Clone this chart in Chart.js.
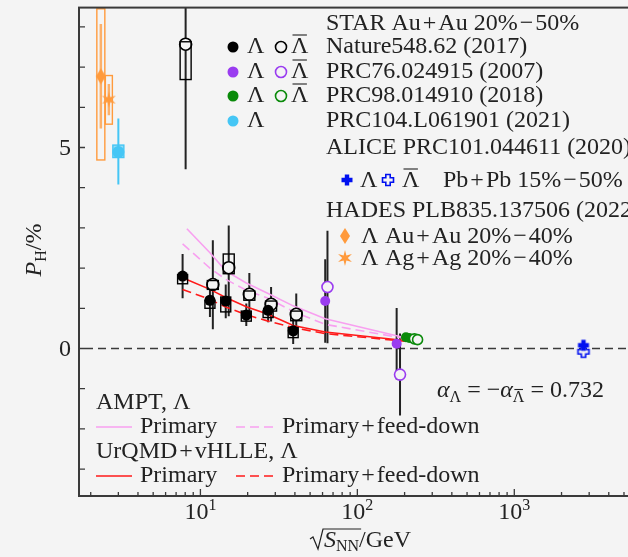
<!DOCTYPE html>
<html>
<head>
<meta charset="utf-8">
<script src="https://cdn.jsdelivr.net/npm/chart.js@4.4.1/dist/chart.umd.min.js"></script>
<style>
html, body { margin: 0; padding: 0; background: #f4f4f4; overflow: hidden; width: 628px; height: 557px; }
canvas { display: block; }
</style>
</head>
<body>
<canvas id="c" width="660" height="557"></canvas>
<script>
// STAR BES, Nature 548, 62 (2017)
const besE = [7.7, 11.5, 14.5, 19.6, 27, 39];
const besLam = [1.80, 1.20, 1.18, 0.83, 0.95, 0.44];
const besLamStatLo = [1.25, 0.78, 0.75, 0.56, 0.65, 0.11];
const besLamStatHi = [2.35, 1.62, 1.59, 1.12, 1.25, 0.77];
const besLamSysLo = [1.61, 1.00, 0.91, 0.68, 0.77, 0.27];
const besLamSysHi = [1.84, 1.20, 1.28, 0.93, 0.93, 0.52];
const besBarE = [8.05, 12.0, 15.15, 20.5, 28.2, 40.8]; // Λbar shifted a bit in the figure
const besBar = [7.57, 1.59, 2.01, 1.35, 1.10, 0.85];
const besBarStatLo = [4.46, 0.48, 0.80, 0.82, 0.67, 0.33];
const besBarStatHi = [10.7, 2.69, 3.06, 1.88, 1.53, 1.37];
const besBarSysLo = [6.69, 1.47, 1.86, 1.20, 0.93, 0.69];
const besBarSysHi = [7.63, 1.69, 2.35, 1.43, 1.18, 0.93];

// STAR PRC76.024915 (2007)
const prc76LamE = [62.4, 178];
const prc76Lam = [1.18, 0.12];
const prc76LamErr = [1.04, 0.89];
const prc76BarE = [64.5, 187];
const prc76Bar = [1.53, -0.65];
const prc76BarErr = [1.40, 1.02];

// STAR PRC98.014910 (2018)
const prc98LamE = [204, 214];
const prc98Lam = [0.28, 0.26];
const prc98BarE = [231, 242];
const prc98Bar = [0.24, 0.22];

// STAR PRC104.L061901 (2021)
const prc104E = [3.0];
const prc104 = [4.89];
const prc104StatLo = [4.08];
const prc104StatHi = [5.72];
const prc104SysLo = [4.75];
const prc104SysHi = [5.06];

// ALICE PRC101.044611 (2020)
const aliceE = [2760];
const aliceLam = [0.08];
const aliceBar = [-0.08];

// HADES PLB835.137506 (2022)
const hadesAuE = [2.32];
const hadesAu = [6.77];
const hadesAuStatLo = [5.47];
const hadesAuStatHi = [8.07];
const hadesAuSysLo = [4.69];
const hadesAuSysHi = [8.45];
const hadesAgE = [2.61];
const hadesAg = [6.19];
const hadesAgStatLo = [5.80];
const hadesAgStatHi = [6.58];
const hadesAgSysLo = [5.58];
const hadesAgSysHi = [6.79];

// models
const modelE = [7.7, 11.5, 14.5, 19.6, 27, 39, 62.4, 200];
const amptPrimE = [8.2, 11.5, 14.5, 19.6, 27, 39, 62.4, 195];
const amptPrim = [2.98, 2.38, 1.93, 1.63, 1.37, 1.06, 0.74, 0.28];
const amptFeed = [2.60, 2.00, 1.72, 1.45, 1.25, 0.92, 0.60, 0.25];
const urqmdPrim = [1.76, 1.47, 1.27, 1.04, 0.85, 0.57, 0.41, 0.20];
const urqmdFeed = [1.47, 1.22, 1.03, 0.84, 0.68, 0.52, 0.37, 0.18];

const xMajor = [10, 100, 1000];
const yTicks = [-3, -2, -1, 0, 1, 2, 3, 4, 5, 6, 7, 8];
const yLabels = [0, 5];

const BG = '#f4f4f4';
const INK = '#222';
const AXIS = '#3a3a3a';
const PURPLE = '#9a3cf0';
const GREEN = '#0a8a0a';
const CYAN = '#45c6f5';
const ORANGE = '#ff9a3c';
const BLUE = '#0010f0';
const PINK = '#f8a0f0';
const RED = '#ff1a1a';
const FONT = '"Liberation Serif", serif';
const F = '24px ' + FONT;
const FI = 'italic 24px ' + FONT;
const FS = '16px ' + FONT;

function pts(xs, ys) { return xs.map((x, i) => ({ x: x, y: ys[i] })); }
function minus(ys, e) { return ys.map((y, i) => y - e[i]); }
function plus(ys, e) { return ys.map((y, i) => y + e[i]); }

function markImg(kind, color) {
    const c = document.createElement('canvas');
    c.width = 20; c.height = 20;
    const g = c.getContext('2d');
    g.translate(10, 10);
    g.fillStyle = color; g.strokeStyle = color;
    if (kind === 'plus' || kind === 'oplus') {
        const a = 5.5, b = 2.2;
        g.beginPath();
        g.moveTo(-b, -a); g.lineTo(b, -a); g.lineTo(b, -b); g.lineTo(a, -b); g.lineTo(a, b);
        g.lineTo(b, b); g.lineTo(b, a); g.lineTo(-b, a); g.lineTo(-b, b); g.lineTo(-a, b);
        g.lineTo(-a, -b); g.lineTo(-b, -b); g.closePath();
        if (kind === 'plus') g.fill();
        else { g.fillStyle = BG; g.fill(); g.lineWidth = 1.6; g.stroke(); }
    } else if (kind === 'diamond') {
        g.beginPath();
        g.moveTo(0, -8); g.lineTo(5, 0); g.lineTo(0, 8); g.lineTo(-5, 0); g.closePath();
        g.fill();
    } else if (kind === 'star') {
        g.beginPath();
        for (let k = 0; k < 12; k++) {
            const r = k % 2 === 0 ? 8 : 2.8;
            const ang = -Math.PI / 2 + k * Math.PI / 6;
            g.lineTo(r * Math.cos(ang), r * Math.sin(ang));
        }
        g.closePath();
        g.fill();
    }
    return c;
}

const imgPlus = markImg('plus', BLUE);
const imgOplus = markImg('oplus', BLUE);
const imgDiamond = markImg('diamond', ORANGE);
const imgStar = markImg('star', ORANGE);

function markers(label, xs, ys, style, color, open, r, extra) {
    return Object.assign({
        label: label,
        data: pts(xs, ys),
        showLine: false,
        pointStyle: style,
        pointRadius: r,
        pointBackgroundColor: open ? BG : color,
        pointBorderColor: color,
        pointBorderWidth: open ? 1.6 : 0
    }, extra || {});
}

function model(label, xs, ys, color, dashed) {
    return {
        label: label,
        data: pts(xs, ys),
        showLine: true,
        borderColor: color,
        borderWidth: 1.6,
        borderDash: dashed ? [9, 5] : [],
        pointRadius: 0,
        tension: 0,
        fill: false
    };
}

const datasets = [
    markers('ALICE Λ', aliceE, aliceLam, imgPlus, BLUE, false, 6),
    markers('ALICE Λbar', aliceE, aliceBar, imgOplus, BLUE, false, 6),
    markers('HADES Au', hadesAuE, hadesAu, imgDiamond, ORANGE, false, 6,
        { errLo: hadesAuStatLo, errHi: hadesAuStatHi, errColor: ORANGE, errWidth: 2.5, errAlpha: 0.75,
          sysLo: hadesAuSysLo, sysHi: hadesAuSysHi, sysColor: ORANGE, boxW: 4 }),
    markers('HADES Ag', hadesAgE, hadesAg, imgStar, ORANGE, false, 6,
        { errLo: hadesAgStatLo, errHi: hadesAgStatHi, errColor: ORANGE, errWidth: 2.5, errAlpha: 0.75,
          sysLo: hadesAgSysLo, sysHi: hadesAgSysHi, sysColor: ORANGE, boxW: 3.5 }),
    markers('PRC104 Λ', prc104E, prc104, 'circle', CYAN, false, 6,
        { errLo: prc104StatLo, errHi: prc104StatHi, errColor: CYAN, errWidth: 2,
          sysLo: prc104SysLo, sysHi: prc104SysHi, sysColor: CYAN, sysFill: 'rgba(69,198,245,0.55)', boxW: 5.5, sysBefore: true }),
    markers('PRC98 Λbar', prc98BarE, prc98Bar, 'circle', GREEN, true, 5),
    markers('PRC98 Λ', prc98LamE, prc98Lam, 'circle', GREEN, false, 5),
    markers('PRC76 Λ', prc76LamE, prc76Lam, 'circle', PURPLE, false, 5,
        { errLo: minus(prc76Lam, prc76LamErr), errHi: plus(prc76Lam, prc76LamErr), errColor: INK, errWidth: 2 }),
    markers('PRC76 Λbar', prc76BarE, prc76Bar, 'circle', PURPLE, true, 5.5,
        { errLo: minus(prc76Bar, prc76BarErr), errHi: plus(prc76Bar, prc76BarErr), errColor: INK, errWidth: 2 }),
    markers('Nature Λ', besE, besLam, 'circle', '#000', false, 5.5,
        { errLo: besLamStatLo, errHi: besLamStatHi, errColor: INK, errWidth: 2,
          sysLo: besLamSysLo, sysHi: besLamSysHi, sysColor: '#000', boxW: 5 }),
    markers('Nature Λbar', besBarE, besBar, 'circle', '#000', true, 6,
        { errLo: besBarStatLo, errHi: besBarStatHi, errColor: INK, errWidth: 2,
          sysLo: besBarSysLo, sysHi: besBarSysHi, sysColor: '#000', boxW: 5.5 }),
    model('AMPT primary', amptPrimE, amptPrim, PINK, false),
    model('AMPT feed-down', modelE, amptFeed, PINK, true),
    model('UrQMD primary', modelE, urqmdPrim, RED, false),
    model('UrQMD feed-down', modelE, urqmdFeed, RED, true)
];

function parts(ctx, list, x, y, align) {
    let w = 0;
    list.forEach(p => { ctx.font = p[1]; w += ctx.measureText(p[0]).width; });
    let cx = align === 'center' ? x - w / 2 : x;
    list.forEach(p => {
        ctx.font = p[1];
        const pw = ctx.measureText(p[0]).width;
        const dy = p[2] || 0;
        ctx.fillText(p[0], cx, y + dy);
        if (p[3]) {
            ctx.save();
            ctx.strokeStyle = INK;
            ctx.beginPath();
            ctx.lineWidth = 1.1;
            ctx.moveTo(cx + 1.5, y + dy - p[3]);
            ctx.lineTo(cx + pw - 1.5, y + dy - p[3]);
            ctx.stroke();
            ctx.restore();
        }
        cx += pw;
    });
    return w;
}

function dot(ctx, x, y, r, color, open) {
    ctx.beginPath();
    ctx.arc(x, y, r, 0, Math.PI * 2);
    if (open) { ctx.fillStyle = BG; ctx.fill(); ctx.lineWidth = 1.6; ctx.strokeStyle = color; ctx.stroke(); }
    else { ctx.fillStyle = color; ctx.fill(); }
}

function boxes(chart, before) {
    const ctx = chart.ctx, y = chart.scales.y, a = chart.chartArea;
    ctx.save();
    ctx.beginPath(); ctx.rect(a.left, a.top, a.right - a.left, a.bottom - a.top); ctx.clip();
    chart.data.datasets.forEach((ds, i) => {
        if (!ds.sysLo || !!ds.sysBefore !== before) return;
        const meta = chart.getDatasetMeta(i);
        meta.data.forEach((el, j) => {
            const y1 = y.getPixelForValue(ds.sysHi[j]);
            const y2 = y.getPixelForValue(ds.sysLo[j]);
            if (ds.sysFill) { ctx.fillStyle = ds.sysFill; ctx.fillRect(el.x - ds.boxW, y1, ds.boxW * 2, y2 - y1); }
            ctx.lineWidth = 1.4;
            ctx.strokeStyle = ds.sysColor;
            ctx.strokeRect(el.x - ds.boxW, y1, ds.boxW * 2, y2 - y1);
        });
    });
    ctx.restore();
}

const extras = {
    id: 'extras',
    beforeDraw(chart) {
        const ctx = chart.ctx;
        ctx.save();
        ctx.fillStyle = BG;
        ctx.fillRect(0, 0, chart.width, chart.height);
        ctx.restore();
    },
    beforeDatasetsDraw(chart) {
        const ctx = chart.ctx, a = chart.chartArea, y = chart.scales.y;
        ctx.save();
        ctx.beginPath(); ctx.rect(a.left, a.top, a.right - a.left, a.bottom - a.top); ctx.clip();
        // zero line
        ctx.strokeStyle = '#3a3a3a';
        ctx.lineWidth = 1.6;
        ctx.setLineDash([8, 5]);
        ctx.beginPath();
        ctx.moveTo(a.left + 6, y.getPixelForValue(0));
        ctx.lineTo(a.right, y.getPixelForValue(0));
        ctx.stroke();
        ctx.setLineDash([]);
        // stat error bars
        chart.data.datasets.forEach((ds, i) => {
            if (!ds.errLo) return;
            const meta = chart.getDatasetMeta(i);
            ctx.strokeStyle = ds.errColor;
            ctx.lineWidth = ds.errWidth;
            ctx.globalAlpha = ds.errAlpha || 1;
            meta.data.forEach((el, j) => {
                ctx.beginPath();
                ctx.moveTo(el.x, y.getPixelForValue(ds.errHi[j]));
                ctx.lineTo(el.x, y.getPixelForValue(ds.errLo[j]));
                ctx.stroke();
            });
            ctx.globalAlpha = 1;
        });
        ctx.restore();
        boxes(chart, true);
    },
    afterDatasetsDraw(chart) {
        boxes(chart, false);
    },
    afterDraw(chart) {
        const ctx = chart.ctx, a = chart.chartArea, x = chart.scales.x, y = chart.scales.y;
        ctx.save();
        // frame
        ctx.strokeStyle = AXIS;
        ctx.lineWidth = 2;
        ctx.strokeRect(a.left, a.top, a.right - a.left, a.bottom - a.top);
        // inward ticks
        ctx.lineWidth = 1.3;
        ctx.beginPath();
        yTicks.forEach(v => {
            const py = y.getPixelForValue(v);
            ctx.moveTo(a.left, py); ctx.lineTo(a.left + 6, py);
        });
        for (let d = 1; d <= 1000; d *= 10) {
            for (let k = 1; k < 10; k++) {
                const v = k * d;
                if (v < x.min || v > x.max) continue;
                const px = x.getPixelForValue(v);
                ctx.moveTo(px, a.bottom); ctx.lineTo(px, a.bottom - (k === 1 ? 7 : 4));
            }
        }
        ctx.stroke();
        // tick labels
        ctx.fillStyle = INK;
        ctx.strokeStyle = INK;
        ctx.textBaseline = 'alphabetic';
        ctx.font = F;
        ctx.textAlign = 'right';
        yLabels.forEach(v => ctx.fillText(String(v), a.left - 8, y.getPixelForValue(v) + 8));
        ctx.textAlign = 'left';
        xMajor.forEach(v => {
            parts(ctx, [['10', F], [String(Math.round(Math.log10(v))), FS, -9]], x.getPixelForValue(v), 519, 'center');
        });
        // axis titles
        ctx.save();
        ctx.translate(33, 250);
        ctx.rotate(-Math.PI / 2);
        parts(ctx, [['P', FI], ['H', FS, 5], ['/%', F]], 0, 8, 'center');
        ctx.restore();
        // sqrt(S_NN)/GeV
        const bx = 310, by = 547;
        ctx.lineWidth = 1.2;
        ctx.font = FI; const sw = ctx.measureText('S').width;
        ctx.font = FS; const nw = ctx.measureText('NN').width;
        ctx.beginPath();
        ctx.moveTo(bx, by - 8); ctx.lineTo(bx + 3, by - 10); ctx.lineTo(bx + 8, by + 2);
        ctx.lineTo(bx + 13, by - 18); ctx.lineTo(bx + 14 + sw + nw + 2, by - 18);
        ctx.stroke();
        parts(ctx, [['S', FI], ['NN', FS, 4], ['/GeV', F]], bx + 14, by, 'left');
        // alpha annotation
        parts(ctx, [['α', FI], ['Λ', FS, 5], [' = −', F], ['α', FI], ['Λ', FS, 5, 12.5], [' = 0.732', F]], 437, 397, 'left');

        // legend, top right
        ctx.font = F;
        ctx.fillText('STAR Au\u200A+\u200AAu 20%\u200A−\u200A50%', 326, 30);
        const rows = [
            ['#000', 'Nature548.62 (2017)', 53, true],
            [PURPLE, 'PRC76.024915 (2007)', 78, true],
            [GREEN, 'PRC98.014910 (2018)', 102, true],
            [CYAN, 'PRC104.L061901 (2021)', 127, false]
        ];
        rows.forEach(r => {
            dot(ctx, 233, r[2] - 6, 5.5, r[0], false);
            ctx.fillStyle = INK;
            parts(ctx, [['Λ', F]], 247, r[2], 'left');
            if (r[3]) {
                dot(ctx, 281, r[2] - 6, 5.5, r[0], true);
                ctx.fillStyle = INK;
                parts(ctx, [['Λ', F, 0, 18]], 291, r[2], 'left');
            }
            ctx.font = F;
            ctx.fillText(r[1], 326, r[2]);
        });
        ctx.fillText('ALICE PRC101.044611 (2020)', 326, 154);
        ctx.drawImage(imgPlus, 347 - 10, 180 - 10);
        ctx.drawImage(imgOplus, 388 - 10, 180 - 10);
        parts(ctx, [['Λ', F]], 360, 187, 'left');
        parts(ctx, [['Λ', F, 0, 18]], 402, 187, 'left');
        ctx.font = F;
        ctx.fillText('Pb\u200A+\u200APb 15%\u200A−\u200A50%', 443, 187);
        ctx.fillText('HADES PLB835.137506 (2022)', 326, 217);
        ctx.drawImage(imgDiamond, 345 - 10, 236 - 10);
        ctx.drawImage(imgStar, 345 - 10, 258 - 10);
        ctx.fillText('Λ', 361, 243);
        ctx.fillText('Au\u200A+\u200AAu 20%\u200A−\u200A40%', 385, 243);
        ctx.fillText('Λ', 361, 265);
        ctx.fillText('Ag\u200A+\u200AAg 20%\u200A−\u200A40%', 385, 265);

        // legend, bottom left
        const lrows = [
            ['AMPT, Λ', PINK, 409],
            ['UrQMD\u200A+\u200AvHLLE, Λ', RED, 458]
        ];
        lrows.forEach(r => {
            ctx.fillStyle = INK;
            ctx.font = F;
            ctx.fillText(r[0], 96, r[2]);
            const ly = r[2] + 18;
            ctx.strokeStyle = r[1];
            ctx.lineWidth = 1.6;
            ctx.beginPath(); ctx.moveTo(96, ly); ctx.lineTo(132, ly); ctx.stroke();
            ctx.setLineDash([9, 5]);
            ctx.beginPath(); ctx.moveTo(236, ly); ctx.lineTo(274, ly); ctx.stroke();
            ctx.setLineDash([]);
            ctx.fillText('Primary', 140, r[2] + 24);
            ctx.fillText('Primary\u200A+\u200Afeed-down', 282, r[2] + 24);
        });
        ctx.restore();
    }
};

document.fonts.load(F).then(() => {
    new Chart(document.getElementById('c'), {
        type: 'scatter',
        data: { datasets: datasets },
        options: {
            responsive: false,
            animation: false,
            events: [],
            layout: { padding: { top: 5, right: 0, left: 0, bottom: 0 } },
            plugins: { legend: { display: false }, tooltip: { enabled: false } },
            scales: {
                x: {
                    type: 'logarithmic',
                    min: 1.684,
                    max: 7586,
                    grid: { display: false },
                    border: { display: false },
                    ticks: { display: false },
                    afterFit: s => { s.height = 61; }
                },
                y: {
                    type: 'linear',
                    min: -3.67,
                    max: 8.48,
                    grid: { display: false },
                    border: { display: false },
                    ticks: { display: false },
                    afterFit: s => { s.width = 79; }
                }
            }
        },
        plugins: [extras]
    });
});
</script>
</body>
</html>
